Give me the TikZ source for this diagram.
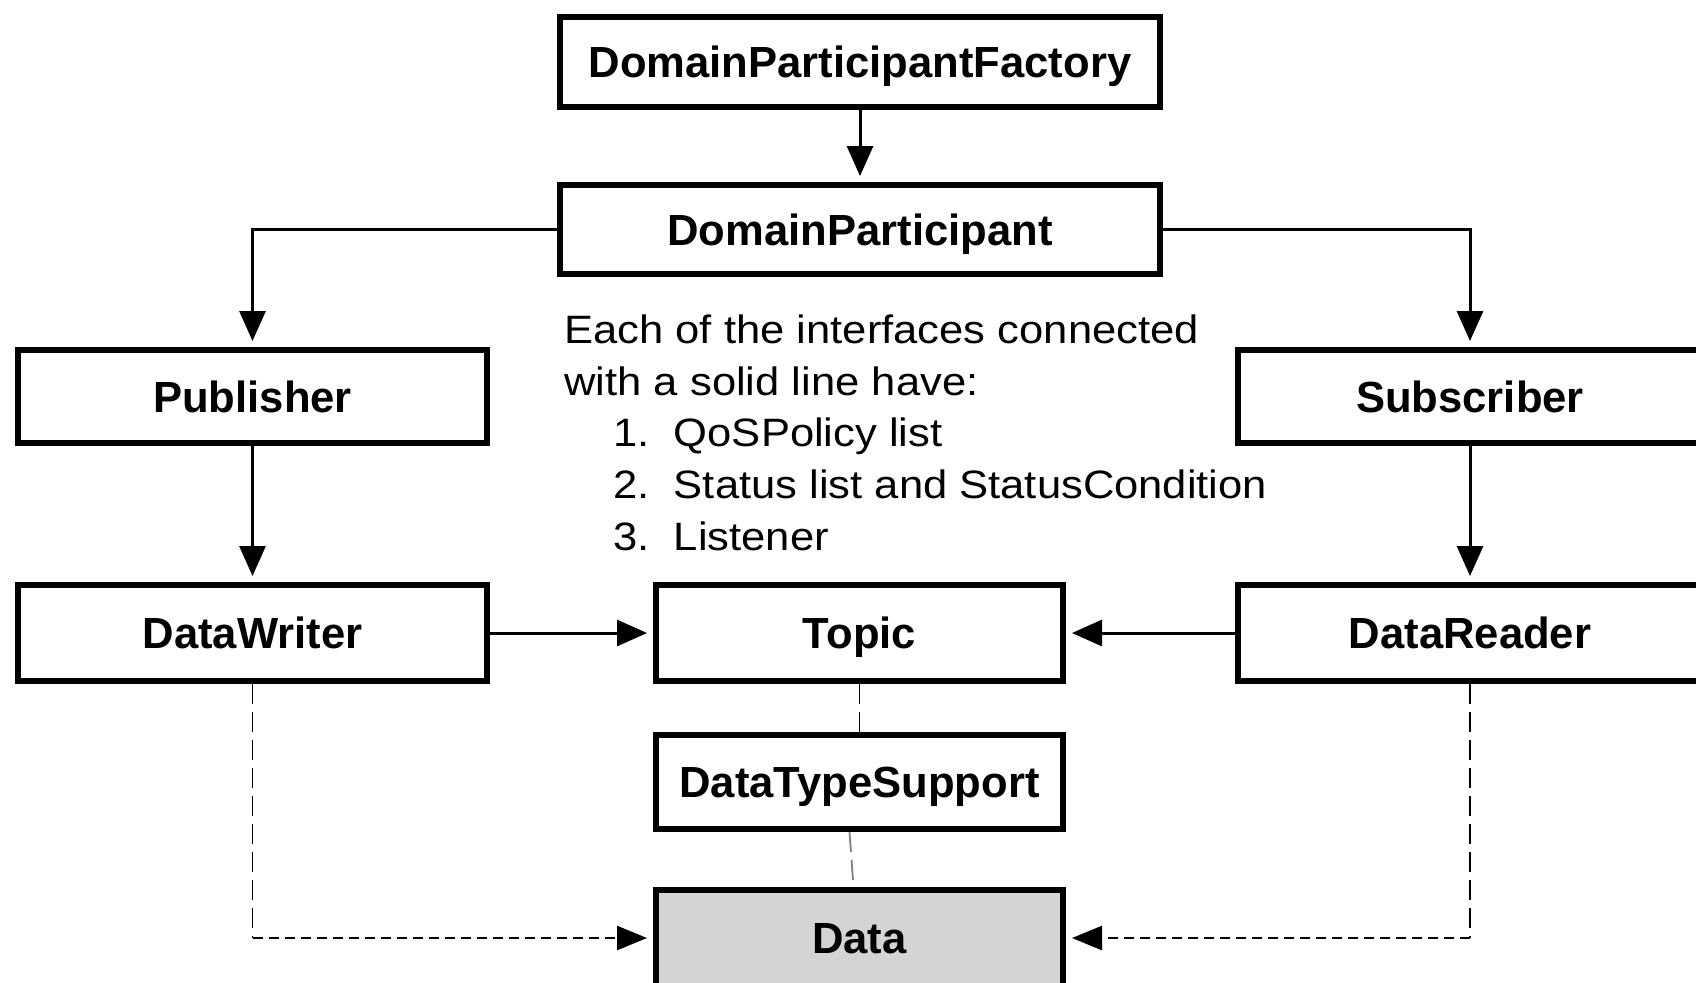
\documentclass[tikz,border=0pt]{standalone}
\usepackage{fontspec}
\setmainfont{Liberation Sans}
\newfontfamily\notefont[FakeStretch=1.1]{Liberation Sans}
\usetikzlibrary{arrows.meta,calc}

\begin{document}
\begin{tikzpicture}[x=0.5pt,y=-0.5pt,
  box/.style={draw,line width=3pt,rectangle,inner sep=0pt,
    font=\fontsize{21.8}{26}\selectfont\bfseries,text height=15.6pt,text depth=0pt},
  flow/.style={line width=1.5pt,-{Triangle[length=15pt,width=13pt]},shorten >=3pt},
  dashlink/.style={line width=0.9pt,dash pattern=on 10pt off 4pt},
  dashflow/.style={line width=1.3pt,dash pattern=on 5pt off 3pt,
    -{Triangle[length=15pt,width=12pt]},shorten >=3pt},
  note/.style={anchor=base west,inner sep=0pt,font=\notefont\fontsize{19.8}{25}\selectfont}]

\useasboundingbox (0,0) rectangle (1696,982);
\clip (0,0) rectangle (1696,982);
\fill[white] (0,0) rectangle (1696,982);

% entities
\node[box,minimum width=300pt,minimum height=45pt] (dpf) at (860,62) {DomainParticipantFactory};
\node[box,minimum width=300pt,minimum height=44.5pt] (dp) at (860,229.5) {DomainParticipant};
\node[box,minimum width=234.5pt,minimum height=46.5pt] (pub) at (252.5,396.5) {Publisher};
\node[box,minimum width=232pt,minimum height=46.5pt] (sub) at (1470,396.5) {Subscriber};
\node[box,minimum width=234.5pt,minimum height=48pt] (dw) at (252.5,633) {DataWriter};
\node[box,minimum width=203.5pt,minimum height=48pt] (topic) at (859.5,633) {Topic};
\node[box,minimum width=232pt,minimum height=48pt] (dr) at (1470,633) {DataReader};
\node[box,minimum width=203.5pt,minimum height=47pt] (dts) at (859.5,782) {DataTypeSupport};
\node[box,fill={rgb,255:red,212;green,212;blue,212},minimum width=203.5pt,minimum height=48pt] (data) at (859.5,938) {Data};

% explanatory note
\node[note] (n1) at (564,343) {Each of the interfaces connected};
\node[note] (n2) at (564,395) {with a solid line have:};
\node[note] (n3) at (613,446.5) {\makebox[30.25pt][l]{1.}QoSPolicy list};
\node[note] (n4) at (613,498) {\makebox[30.25pt][l]{2.}Status list and StatusCondition};
\node[note] (n5) at (613,550) {\makebox[30.25pt][l]{3.}Listener};

% solid connectors
\draw[flow] (dpf) -- (dp);
\draw[flow] (dp.west) -| (pub.north);
\draw[flow] (dp.east) -| (sub.north);
\draw[flow] (pub) -- (dw);
\draw[flow] (sub) -- (dr);
\draw[flow] (dw) -- (topic);
\draw[flow] (dr) -- (topic);

% dashed connectors
\draw[dashlink] (topic) -- (dts);
\draw[dashlink,gray] ([xshift=-5pt]dts.south) -- ([xshift=-3pt]data.north);
\coordinate (wc) at (dw.south |- data.west);
\coordinate (rc) at (dr.south |- data.east);
\draw[dashlink] (dw.south) -- (wc);
\draw[dashflow] (wc) -- (data.west);
\draw[dashlink] (dr.south) -- (rc);
\draw[dashflow] (rc) -- (data.east);
\end{tikzpicture}
\end{document}
